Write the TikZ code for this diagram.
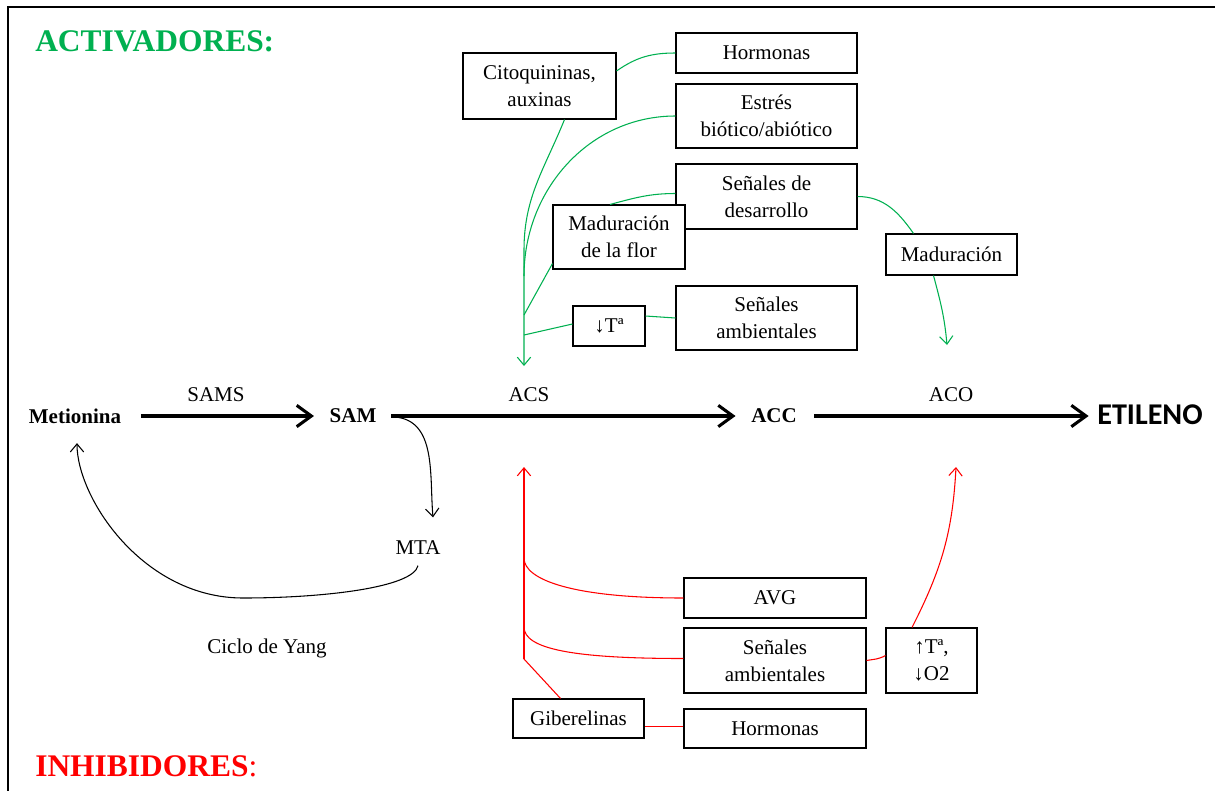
\documentclass[tikz,border=0pt]{standalone}
\usepackage{fontspec}
\setmainfont{Liberation Serif}
\newfontfamily\calibri{Carlito}
\usepackage{xcolor}
\usetikzlibrary{arrows.meta,calc}
\definecolor{verde}{HTML}{00B050}
\definecolor{rojo}{HTML}{FF0000}
\newcommand{\titulo}{\fontsize{23.6}{27}\selectfont}
\newcommand{\texto}{\fontsize{15.75}{20}\selectfont}
\tikzset{
  caja/.style 2 args={draw,fill=white,line width=0.8pt,minimum width=#1,minimum height=#2,inner sep=1pt,align=center},
  enlace/.style={line width=0.8pt},
  fina/.style={line width=0.8pt,-{Straight Barb[length=6pt,width=10pt]}},
  gruesa/.style={line width=2.3pt,-{Straight Barb[length=11pt,width=16pt]}}
}

\begin{document}
\begin{tikzpicture}[x=0.75pt,y=-0.75pt,every node/.append style={font=\texto}]
\useasboundingbox (0,0) rectangle (1215,790);
\draw[line width=1.6pt] (8,800) -- (8,7) -- (1225,7);

\node[anchor=base west,inner sep=0pt,font=\titulo\bfseries,verde] (act) at (35,51) {ACTIVADORES:};
\node[anchor=base west,inner sep=0pt,font=\titulo,rojo] (inh) at (35,776) {\textbf{INHIBIDORES}:};

\node[font=\texto\bfseries] (met) at (75,416) {Metionina};
\node[font=\texto\bfseries] (sam) at (353,416) {SAM};
\node[font=\texto\bfseries] (acc) at (774,416) {ACC};
\node[font=\calibri\fontsize{22.6}{26}\selectfont\bfseries] (eti) at (1150,415) {ETILENO};
\node (mta) at (418,548) {MTA};
\node (ciclo) at (267,648) {Ciclo de Yang};
\node (sams) at (216,395) {SAMS};
\node (acs) at (529,395) {ACS};
\node (aco) at (951,395) {ACO};

\draw[gruesa] ($(met.east)+(15,0)$) -- ($(sam.west)+(-11,0)$);
\draw[gruesa] ($(sam.east)+(10,0)$) -- ($(acc.west)+(-11,0)$);
\draw[gruesa] ($(acc.east)+(13,0)$) -- ($(eti.west |- acc.east)+(-4,0)$);

\coordinate (fondo) at (243,598);
\draw[fina] ($(sam.east)+(14,1)$) to[out=-5,in=95] ($(mta.north)+(15,-19)$);
\draw[fina] ($(mta.south)+(0,6)$) .. controls +(-5,22) and +(80,0) .. (fondo)
  .. controls +(-100,0) and +(0,55) .. ($(met.south)+(2,15)$);

\node[caja={135.75pt}{30pt}] (hormA) at (766.5,53) {Hormonas};
\node[caja={114.75pt}{49.5pt}] (cito) at (539.5,86) {Citoquininas,\\auxinas};
\node[caja={135.75pt}{48pt}] (estres) at (766.5,116) {Estrés\\biótico/abiótico};
\node[caja={135.75pt}{48.75pt}] (desarr) at (766.5,196.5) {Señales de\\desarrollo};
\node[caja={99pt}{48pt}] (flor) at (619,237) {Maduración\\de la flor};
\node[caja={98.25pt}{30.75pt}] (madur) at (951.5,254.5) {Maduración};
\node[caja={54pt}{30pt}] (tbaja) at (609,326) {↓Tª};
\node[caja={135.75pt}{48pt}] (ambA) at (766.5,318) {Señales\\ambientales};

\coordinate (gA) at (524,250);
\coordinate (gB) at (524,276);
\coordinate (gC) at (524,315);
\coordinate (gD) at (524,335);
\coordinate (puntaA) at (524,366);
\coordinate (puntaB) at (947,345);

\begin{scope}[verde]
\draw[enlace] (hormA.west) to[out=180,in=35] ($(cito.east)+(0,-15)$);
\draw[fina] ($(cito.south)+(25,0)$) to[out=-112,in=90] (gA) -- (puntaA);
\draw[enlace] (estres.west) to[out=180,in=90] (gB);
\draw[enlace] ($(desarr.west)+(0,-3)$) to[out=180,in=15] ($(flor.north)+(-9,0)$);
\draw[enlace] ($(flor.south west)+(0,-6)$) -- (gC);
\draw[enlace] (ambA.west) -- ($(tbaja.east)+(0,-10)$);
\draw[enlace] ($(tbaja.west)+(0,-2)$) -- (gD);
\draw[enlace] (desarr.east) to[out=0,in=125] ($(madur.north)+(-38,0)$);
\draw[fina] ($(madur.south)+(-18,0)$) to[out=-75,in=95] (puntaB);
\end{scope}

\node[caja={136.5pt}{30pt}] (avg) at (775,598) {AVG};
\node[caja={136.5pt}{48.75pt}] (ambI) at (775,660.5) {Señales\\ambientales};
\node[caja={68.25pt}{48.75pt}] (tox) at (931.5,660.5) {↑Tª,\\↓O2};
\node[caja={98.25pt}{29.25pt}] (giber) at (578.5,718.5) {Giberelinas};
\node[caja={136.5pt}{29.25pt}] (hormI) at (775,728.5) {Hormonas};

\coordinate (rA) at (524,558);
\coordinate (rB) at (524,627);
\coordinate (rC) at (524,659);
\coordinate (puntaC) at (524,467);
\coordinate (puntaD) at (956,467);

\begin{scope}[rojo]
\draw[fina] (rC) -- (puntaC);
\draw[enlace] (avg.west) .. controls +(-110,0) and +(0,22) .. (rA);
\draw[enlace] ($(ambI.west)+(0,-2)$) .. controls +(-110,0) and +(0,22) .. (rB);
\draw[enlace] ($(giber.north)+(-18,0)$) -- (rC);
\draw[enlace] ($(hormI.west)+(0,-2)$) -- ($(giber.east)+(0,8)$);
\draw[enlace] (ambI.east) to[out=10,in=210] ($(tox.west)+(0,-5)$);
\draw[fina] ($(tox.north)+(-19.5,0)$) to[out=63,in=-93] (puntaD);
\end{scope}
\end{tikzpicture}
\end{document}
